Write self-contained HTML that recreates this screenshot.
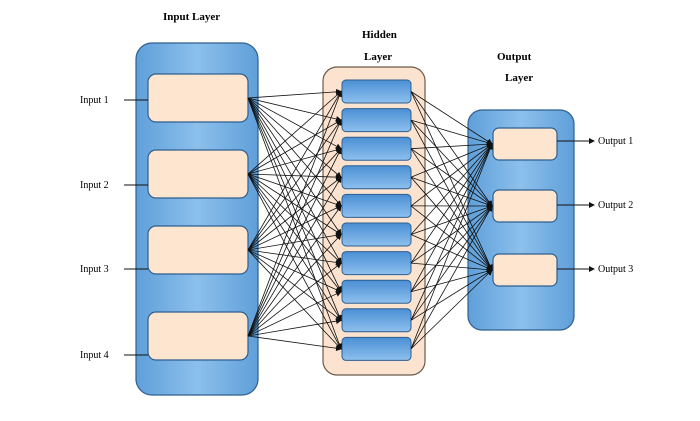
<!DOCTYPE html>
<html><head><style>body{margin:0;background:#fff}</style></head><body>
<svg width="700" height="416" xmlns="http://www.w3.org/2000/svg" font-family="Liberation Serif, serif">
<defs>
<marker id="a" markerWidth="6" markerHeight="6" refX="5" refY="3" orient="auto" markerUnits="userSpaceOnUse"><path d="M0,0 L6,3 L0,6 z" fill="#111"/></marker>
<linearGradient id="bl" x1="0" x2="1"><stop offset="0" stop-color="#5f9fd9"/><stop offset="0.5" stop-color="#8cc0ec"/><stop offset="1" stop-color="#5f9fd9"/></linearGradient>
<linearGradient id="hn" x1="0" y1="0" x2="0" y2="1"><stop offset="0" stop-color="#4a8fd4"/><stop offset="1" stop-color="#8ec0ee"/></linearGradient>
</defs>
<text x="163" y="20" font-size="11" font-weight="bold">Input Layer</text>
<text x="362" y="38" font-size="11" font-weight="bold">Hidden</text>
<text x="364" y="60" font-size="11" font-weight="bold">Layer</text>
<text x="497" y="60" font-size="11" font-weight="bold">Output</text>
<text x="505" y="81" font-size="11" font-weight="bold">Layer</text>
<rect x="136" y="43" width="122" height="352" rx="16" fill="url(#bl)" stroke="#2f5f8f" stroke-width="1.2"/>
<rect x="323" y="67" width="102" height="308" rx="14" fill="#fbe3cf" stroke="#6b5a4a" stroke-width="1.2"/>
<rect x="468" y="110" width="106" height="220" rx="14" fill="url(#bl)" stroke="#2f5f8f" stroke-width="1.2"/>
<g fill="#fde5d0" stroke="#2f5f8f" stroke-width="1.2">
<rect x="148" y="74" width="100" height="48" rx="8"/>
<rect x="148" y="150" width="100" height="48" rx="8"/>
<rect x="148" y="226" width="100" height="48" rx="8"/>
<rect x="148" y="312" width="100" height="48" rx="8"/>
<rect x="493" y="128" width="64" height="32" rx="6"/>
<rect x="493" y="190" width="64" height="32" rx="6"/>
<rect x="493" y="254" width="64" height="32" rx="6"/>
</g>
<g id="h" fill="url(#hn)" stroke="#2f5f8f" stroke-width="1"></g>
<g id="l" stroke="#111" stroke-width="0.8" fill="none"></g>
<g font-size="10" fill="#000">
<text x="80" y="103">Input 1</text><text x="80" y="188">Input 2</text>
<text x="80" y="272">Input 3</text><text x="80" y="358">Input 4</text>
<text x="598" y="144">Output 1</text><text x="598" y="208">Output 2</text><text x="598" y="272">Output 3</text>
</g>
<g stroke="#111" stroke-width="1">
<line x1="124" y1="100" x2="148" y2="100"/>
<line x1="124" y1="185" x2="148" y2="185"/>
<line x1="124" y1="269" x2="148" y2="269"/>
<line x1="124" y1="355" x2="148" y2="355"/>
</g>
<g stroke="#111" stroke-width="1" marker-end="url(#a)">
<line x1="557" y1="141" x2="594" y2="141"/>
<line x1="557" y1="205" x2="594" y2="205"/>
<line x1="557" y1="269" x2="594" y2="269"/>
</g>
</svg>
<script>
var ns="http://www.w3.org/2000/svg",h=document.getElementById('h'),l=document.getElementById('l');
var ins=[98,174,250,336],outs=[144,206,270],hs=[];
for(var i=0;i<10;i++){var y=80+i*28.6;hs.push(y+11.5);var r=document.createElementNS(ns,'rect');
r.setAttribute('x',342);r.setAttribute('y',y);r.setAttribute('width',69);r.setAttribute('height',23);r.setAttribute('rx',4);h.appendChild(r);}
function ln(x1,y1,x2,y2){var e=document.createElementNS(ns,'line');e.setAttribute('x1',x1);e.setAttribute('y1',y1);e.setAttribute('x2',x2);e.setAttribute('y2',y2);e.setAttribute('marker-end','url(#a)');l.appendChild(e);}
ins.forEach(function(a){hs.forEach(function(b){ln(248,a,341,b);});});
hs.forEach(function(a){outs.forEach(function(b){ln(411,a,492,b);});});
</script>
</body></html>
